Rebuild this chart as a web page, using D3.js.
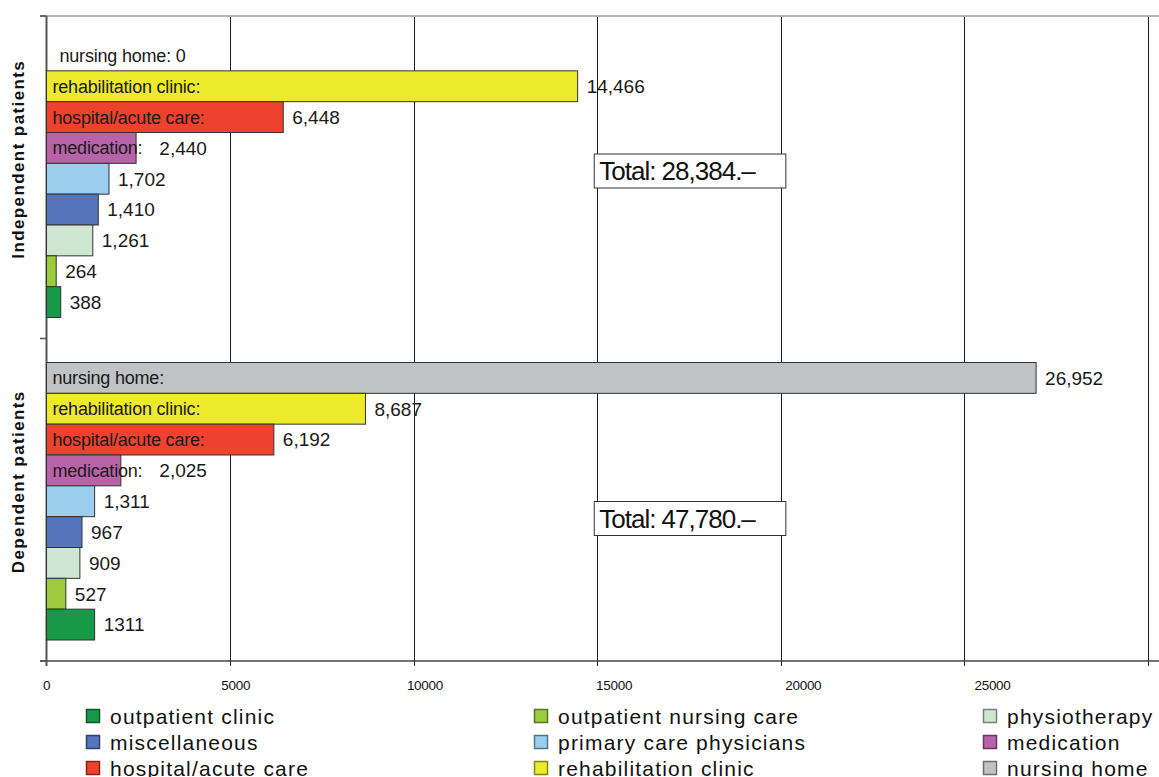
<!DOCTYPE html>
<html>
<head>
<meta charset="utf-8">
<script src="https://cdn.jsdelivr.net/npm/d3@7"></script>
<style>
  body { margin: 0; background: #fff; }
  svg { display: block; font-family: "Liberation Sans", Arial, Helvetica, sans-serif; }
</style>
</head>
<body>
<div id="chart"></div>
<script>
// categories top -> bottom inside each group
var categories = ["nursing home", "rehabilitation clinic", "hospital/acute care", "medication",
    "primary care physicians", "miscellaneous", "physiotherapy", "outpatient nursing care", "outpatient clinic"];
var groups = ["Independent patients", "Dependent patients"];

var independentValues = [0, 14466, 6448, 2440, 1702, 1410, 1261, 264, 388];
var dependentValues = [26952, 8687, 6192, 2025, 1311, 967, 909, 527, 1311];
var independentLabels = ["0", "14,466", "6,448", "2,440", "1,702", "1,410", "1,261", "264", "388"];
var dependentLabels = ["26,952", "8,687", "6,192", "2,025", "1,311", "967", "909", "527", "1311"];
var totalLabels = ["Total: 28,384.\u2013", "Total: 47,780.\u2013"];

// categories that get their name written inside the bar
var namedInside = ["nursing home", "rehabilitation clinic", "hospital/acute care", "medication"];

var xTicks = [0, 5000, 10000, 15000, 20000, 25000, 30000];
var xTickLabels = [0, 5000, 10000, 15000, 20000, 25000];

var colors = {
    "outpatient clinic": "#169a48",
    "outpatient nursing care": "#9ccb3e",
    "physiotherapy": "#cfe7d1",
    "miscellaneous": "#5574bc",
    "primary care physicians": "#9acdee",
    "medication": "#b862a8",
    "hospital/acute care": "#ee412e",
    "rehabilitation clinic": "#ede92b",
    "nursing home": "#c1c2c5"
};

// legend order, 3 per row
var legendOrder = ["outpatient clinic", "outpatient nursing care", "physiotherapy",
    "miscellaneous", "primary care physicians", "medication",
    "hospital/acute care", "rehabilitation clinic", "nursing home"];

var width = 1159, height = 777;
var margin = {top: 16, left: 46.5, right: 11, bottom: 116};

var svg = d3.select("#chart").append("svg")
    .attr("width", width)
    .attr("height", height);

// scales
var x = d3.scaleLinear().domain([0, 30000]).range([margin.left, width - margin.right]);
// tick labels in the original drift a little to the right of their grid lines
var xLabel = d3.scaleLinear().domain([0, 30000]).range([margin.left, margin.left + 6 * 189.2]);
var yGroup = d3.scaleBand().domain(groups).range([margin.top, height - margin.bottom]);
var yInner = d3.scaleBand().domain(categories).range([24, yGroup.bandwidth() - 21]);

var plotBottom = height - margin.bottom;

// vertical grid lines (with the tick below the axis)
svg.selectAll(".grid")
    .data(xTicks.slice(1))
    .enter().append("line")
    .attr("class", "grid")
    .attr("x1", function(d) { return Math.round(x(d)) + 0.5; })
    .attr("x2", function(d) { return Math.round(x(d)) + 0.5; })
    .attr("y1", margin.top)
    .attr("y2", plotBottom + 5)
    .style("stroke", "#1a1a1a")
    .style("stroke-width", 1);

// top border
svg.append("line")
    .attr("x1", 40).attr("x2", width)
    .attr("y1", margin.top).attr("y2", margin.top)
    .style("stroke", "#b4b4b4")
    .style("stroke-width", 2);

// bottom axis line
svg.append("line")
    .attr("x1", 40).attr("x2", width)
    .attr("y1", plotBottom).attr("y2", plotBottom)
    .style("stroke", "#444")
    .style("stroke-width", 1.5);

// x tick labels
svg.selectAll(".xlab")
    .data(xTickLabels)
    .enter().append("text")
    .attr("class", "xlab")
    .attr("x", function(d) { return xLabel(d); })
    .attr("y", 690)
    .style("text-anchor", "middle")
    .style("font-size", "13.5px")
    .style("letter-spacing", "-0.3px")
    .style("fill", "#111")
    .text(function(d) { return d; });

// left axis + ticks
svg.append("line")
    .attr("x1", margin.left).attr("x2", margin.left)
    .attr("y1", margin.top).attr("y2", plotBottom + 5)
    .style("stroke", "#555")
    .style("stroke-width", 2);

svg.selectAll(".ytick")
    .data([margin.top, yGroup(groups[1]), plotBottom])
    .enter().append("line")
    .attr("class", "ytick")
    .attr("x1", 40).attr("x2", margin.left)
    .attr("y1", function(d) { return d; })
    .attr("y2", function(d) { return d; })
    .style("stroke", "#555")
    .style("stroke-width", 1.5);

// one block per patient group
var groupValues = [independentValues, dependentValues];
var groupLabels = [independentLabels, dependentLabels];
var totalOffsets = [138, 163];

groups.forEach(function(g, gi) {
    var top = yGroup(g);
    var data = categories.map(function(c, i) {
        return {name: c, value: groupValues[gi][i], label: groupLabels[gi][i]};
    });

    var block = svg.append("g").attr("transform", "translate(0," + top + ")");

    // bars
    block.selectAll("rect")
        .data(data)
        .enter().append("rect")
        .attr("x", x(0))
        .attr("y", function(d) { return yInner(d.name); })
        .attr("width", function(d) { return x(d.value) - x(0); })
        .attr("height", yInner.bandwidth())
        .style("fill", function(d) { return colors[d.name]; })
        .style("stroke", "#333")
        .style("stroke-width", 1);

    // names written inside the bars, then the value
    data.forEach(function(d) {
        var cy = yInner(d.name) + yInner.bandwidth() / 2;
        var labelEnd = 0;
        if (namedInside.indexOf(d.name) >= 0) {
            var lx = x(0) + (d.value === 0 ? 13 : 6);
            var t = block.append("text")
                .attr("x", lx)
                .attr("y", cy)
                .attr("dy", "0.36em")
                .style("font-size", "18px")
                .style("letter-spacing", "-0.2px")
                .style("fill", "#1a1a1a")
                .text(d.value === 0 ? d.name + ": " + d.label : d.name + ":");
            labelEnd = lx + t.node().getComputedTextLength();
        }
        if (d.value === 0) return;
        block.append("text")
            .attr("x", Math.max(x(d.value) + 9, labelEnd ? labelEnd + 17 : 0))
            .attr("y", cy)
            .attr("dy", "0.36em")
            .style("font-size", "19px")
            .style("fill", "#1a1a1a")
            .text(d.label);
    });

    // total box
    var box = block.append("g")
        .attr("transform", "translate(" + (x(15000) - 3) + "," + totalOffsets[gi] + ")");
    box.append("rect")
        .attr("width", x(20000) - x(15000) + 8)
        .attr("height", 34)
        .style("fill", "#fff")
        .style("stroke", "#333")
        .style("stroke-width", 1);
    box.append("text")
        .attr("x", 5)
        .attr("y", 17)
        .attr("dy", "0.36em")
        .style("font-size", "26px")
        .style("letter-spacing", "-1px")
        .style("fill", "#111")
        .text(totalLabels[gi]);

    // group label on the left
    svg.append("text")
        .attr("transform", "translate(24," + (top + yGroup.bandwidth() / 2 - 18) + ") rotate(-90)")
        .style("text-anchor", "middle")
        .style("font-size", "17px")
        .style("font-weight", "bold")
        .style("letter-spacing", "1.4px")
        .style("fill", "#111")
        .text(g);
});

// legend
var legend = svg.selectAll(".legend")
    .data(legendOrder)
    .enter().append("g")
    .attr("class", "legend")
    .attr("transform", function(d, i) {
        var col = i % 3, row = Math.floor(i / 3);
        var lx = [86, 534, 983][col];
        return "translate(" + lx + "," + (716 + row * 26) + ")";
    });

legend.append("rect")
    .attr("x", 0.5)
    .attr("y", -6.5)
    .attr("width", 13)
    .attr("height", 13)
    .style("fill", function(d) { return colors[d]; })
    .style("stroke", function(d) { return d3.color(colors[d]).darker(1.6); })
    .style("stroke-width", 1.5);

legend.append("text")
    .attr("x", 24)
    .attr("y", 0)
    .attr("dy", "0.36em")
    .style("font-size", "21px")
    .style("letter-spacing", "1.2px")
    .style("fill", "#111")
    .text(function(d) { return d; });
</script>
</body>
</html>
